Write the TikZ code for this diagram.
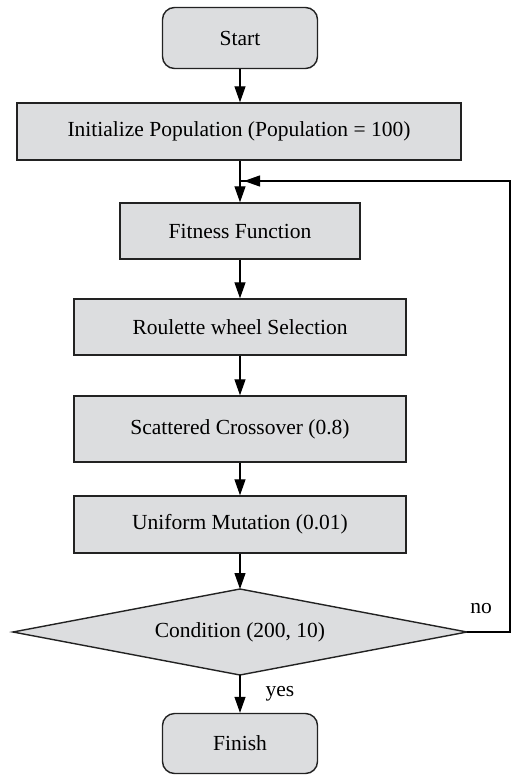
\documentclass[tikz,border=0pt]{standalone}
\usepackage{fontspec}
\setmainfont{Liberation Serif}
\usetikzlibrary{arrows.meta}
\definecolor{boxfill}{HTML}{DCDDDF}
\definecolor{edge}{HTML}{222222}
\begin{document}
\begin{tikzpicture}[x=1pt,y=-1pt,
  font=\fontsize{21.5}{24}\selectfont,
  base/.style={draw=edge,line width=1.4pt,fill=boxfill,inner sep=0pt,anchor=center},
  term/.style={base,rounded corners=12pt,minimum width=155pt,minimum height=61pt},
  narrowbox/.style={base,minimum width=240pt,minimum height=56pt},
  midbox/.style={base,minimum width=332pt,minimum height=56pt},
  wide/.style={base,minimum width=444pt,minimum height=57pt},
  arr/.style={draw=black,line width=1.2pt,-{Triangle[length=16pt,width=11pt]}},
  plain/.style={draw=black,line width=1.2pt},
  lbl/.style={font=\fontsize{21.5}{24}\selectfont}]
\useasboundingbox (0,0) rectangle (512,777);
\node[term] (start) at (240,38) {Start};
\node[wide] (init) at (239,131.5) {Initialize Population (Population = 100)};
\node[narrowbox] (fit) at (240,231) {Fitness Function};
\node[midbox] (rou) at (240,327) {Roulette wheel Selection};
\node[midbox,minimum height=66pt] (sca) at (240,429) {Scattered Crossover (0.8)};
\node[midbox,minimum height=57pt] (uni) at (240,524.5) {Uniform Mutation (0.01)};
\path[base] (13,632) coordinate (cw) -- (240,589) coordinate (cn) -- (467,632) coordinate (ce) -- (240,675) coordinate (cs) -- cycle;
\node (cond) at (240,632) {Condition (200, 10)};
\node[term,minimum height=60pt] (fin) at (240,743.5) {Finish};
\coordinate (loopA) at (510,632);
\coordinate (loopB) at (510,181);
\coordinate (join) at (240,181);
\draw[arr] (start.south -| 240,0) -- (init.north -| 240,0);
\draw[arr] (init.south -| 240,0) -- (fit.north);
\draw[arr] (fit) -- (rou);
\draw[arr] (rou) -- (sca);
\draw[arr] (sca) -- (uni);
\draw[arr] (uni.south) -- (cn);
\draw[arr] (cs) -- (fin.north);
\draw[plain] (ce) -- (loopA) -- (loopB) -- (join);
\draw[arr] (loopB) -- ([xshift=4pt]join);
\node[lbl] (no) at (481,609) {no};
\node[lbl] (yes) at (280,694) {yes};
\end{tikzpicture}
\end{document}
